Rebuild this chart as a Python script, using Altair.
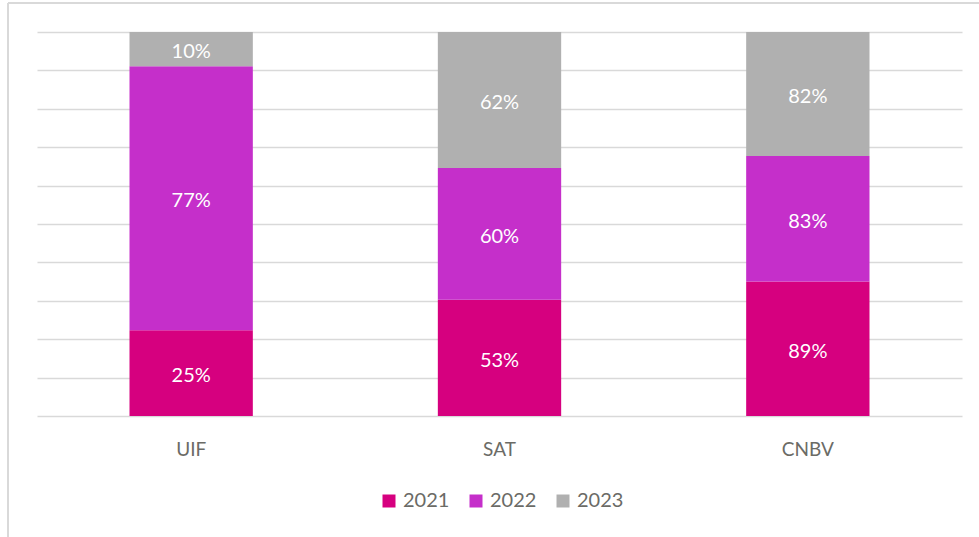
import altair as alt
import pandas as pd

categories = ["UIF", "SAT", "CNBV"]
years = ["2021", "2022", "2023"]
v2021 = [25, 53, 89]
v2022 = [77, 60, 83]
v2023 = [10, 62, 82]
colors = ["#D6007F", "#C52FCA", "#B0B0B0"]

rows = []
for yi, (yr, vals) in enumerate(zip(years, [v2021, v2022, v2023])):
    for c, v in zip(categories, vals):
        rows.append({"cat": c, "year": yr, "value": v, "order": yi, "label": f"{v}%"})
df = pd.DataFrame(rows)

FONT = "Lato"
W, H = 925, 384

base = alt.Chart(df).transform_stack(
    stack="value", groupby=["cat"], as_=["y0", "y1"], offset="normalize",
    sort=[alt.SortField("order", order="ascending")]
).transform_calculate(mid="(datum.y0 + datum.y1) / 2")

x_axis = alt.Axis(labelAngle=0, ticks=False, domain=False, labelPadding=24, grid=False,
                  labelFont=FONT, labelFontSize=19, labelColor="#6B6B66")
x_scale = alt.Scale(paddingInner=0.6, paddingOuter=0.3)
y_axis = alt.Axis(values=[i / 10 for i in range(11)], labels=False, ticks=False,
                  domain=False, grid=True, gridColor="#D9D9D9", gridWidth=1.5)
y_scale = alt.Scale(domain=[0, 1], nice=False)

bars = base.mark_bar().encode(
    x=alt.X("cat:N", sort=categories, title=None, scale=x_scale, axis=x_axis),
    y=alt.Y("y0:Q", scale=y_scale, title=None, axis=y_axis),
    y2="y1:Q",
    color=alt.Color("year:N", scale=alt.Scale(domain=years, range=colors), title=None,
                    legend=alt.Legend(orient="none", direction="horizontal", legendX=342,
                                      legendY=459, symbolType="square", symbolSize=169,
                                      symbolStrokeWidth=0, labelFont=FONT, labelFontSize=20,
                                      labelColor="#6B6B66", columnPadding=16, labelOffset=4)),
)

texts = base.mark_text(color="white", font=FONT, fontSize=20, baseline="middle", dy=3).encode(
    x=alt.X("cat:N", sort=categories, title=None, scale=x_scale, axis=x_axis),
    y=alt.Y("mid:Q", scale=y_scale, title=None, axis=y_axis),
    text="label:N",
)

frame_top = alt.Chart(df).mark_rule(color="#D9D9D9", strokeWidth=1.5).encode(
    x=alt.value(-29), x2=alt.value(W + 40), y=alt.value(-29))
frame_left = alt.Chart(df).mark_rule(color="#D9D9D9", strokeWidth=1.5).encode(
    x=alt.value(-29), y=alt.value(-29), y2=alt.value(H + 140))

chart = alt.layer(bars, texts, frame_top, frame_left).properties(
    width=W, height=H,
    autosize=alt.AutoSizeParams(type="none"),
    padding={"left": 37, "top": 32, "right": 17, "bottom": 121},
).configure(background="white", view=alt.ViewConfig(stroke=None))

chart.save("out.html", embed_options={"renderer": "svg", "actions": False})
